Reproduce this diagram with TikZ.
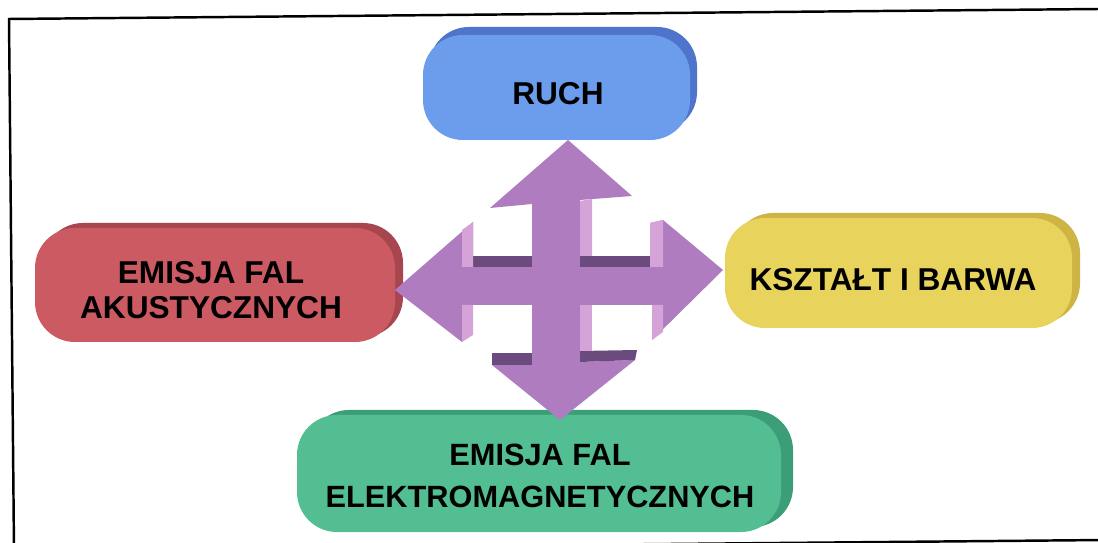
\documentclass[tikz,border=0pt]{standalone}
\usepackage{fontspec}
\setmainfont{Liberation Sans}
\definecolor{ruchfront}{HTML}{6C9CEC}
\definecolor{ruchback}{HTML}{4E74CC}
\definecolor{akufront}{HTML}{CB5A62}
\definecolor{akuback}{HTML}{A8464F}
\definecolor{ksztfront}{HTML}{E8D45C}
\definecolor{ksztback}{HTML}{CDB445}
\definecolor{elekfront}{HTML}{52BE92}
\definecolor{elekback}{HTML}{3C9E78}
\definecolor{crossfront}{HTML}{AE7CBF}
\definecolor{crossdark}{HTML}{6B4A7E}
\definecolor{crosslight}{HTML}{D6A3D9}
\begin{document}
\begin{tikzpicture}[x=0.02cm,y=-0.02cm,
  pill/.style={rounded corners=0.8cm},
  caption/.style={font=\bfseries\fontsize{18}{19.85}\selectfont, text=black,
    align=center, inner sep=0pt},
]
\useasboundingbox (0,0) rectangle (1098,543);
\fill[white] (0,0) rectangle (1098,543);

% slightly tilted outer frame
\begin{scope}
  \clip (0,0) rectangle (1098,543);
  \draw[line width=1.4pt] (9,19) -- (1209,8) -- (1214,539) -- (14,550) -- cycle;
\end{scope}

% extruded rounded boxes: darker back face, then the front face
\fill[pill, ruchback]  (429,27)  rectangle (697,132);
\fill[pill, ruchfront] (423,35)  rectangle (690,140);

\fill[pill, akuback]   (43,223)  rectangle (403,337);
\fill[pill, akufront]  (35,228)  rectangle (395,342);

\fill[pill, ksztback]  (733,213) rectangle (1080,323);
\fill[pill, ksztfront] (725,218) rectangle (1072,328);

\fill[pill, elekback]  (309,410) rectangle (793,527);
\fill[pill, elekfront] (297,415) rectangle (781,532);

% four-way arrow, front face
\fill[crossfront] (568,140) -- (632,196) -- (580,200) -- (580,267) -- (650,267)
  -- (650,223) -- (663,220) -- (723,270) -- (652,340) -- (652,305) -- (580,305)
  -- (580,362) -- (635,360) -- (560,420) -- (492,365) -- (532,365) -- (532,305)
  -- (464,305) -- (462,342) -- (395,290) -- (473,222) -- (473,267) -- (532,267)
  -- (532,204) -- (490,208) -- cycle;

% darker top faces
\fill[crossdark] (473,256) -- (532,256) -- (532,267) -- (473,267) -- cycle;
\fill[crossdark] (580,256) -- (650,256) -- (650,267) -- (580,267) -- cycle;
\fill[crossdark] (492,353) -- (532,353) -- (532,365) -- (492,365) -- cycle;
\fill[crossdark] (580,351) -- (637,350) -- (635,360) -- (580,362) -- cycle;

% lighter side faces
\fill[crosslight] (580,201) -- (592,199) -- (592,256) -- (580,256) -- cycle;
\fill[crosslight] (580,305) -- (592,305) -- (592,351) -- (580,351) -- cycle;
\fill[crosslight] (462,230) -- (473,222) -- (473,267) -- (462,267) -- cycle;
\fill[crosslight] (462,305) -- (473,305) -- (473,335) -- (462,342) -- cycle;
\fill[crosslight] (650,223) -- (663,220) -- (663,267) -- (650,267) -- cycle;
\fill[crosslight] (652,305) -- (663,305) -- (663,332) -- (652,340) -- cycle;

% labels
\node[caption] (ruch) at (558,94) {RUCH};
\node[caption] (aku) at (211,290.5) {EMISJA FAL\\AKUSTYCZNYCH};
\node[caption] (kszt) at (893,280) {KSZTAŁT I BARWA};
\node[caption, font=\bfseries\fontsize{17.5}{23.8}\selectfont] (elek) at (540,476)
  {EMISJA FAL\\ELEKTROMAGNETYCZNYCH};
\end{tikzpicture}
\end{document}
